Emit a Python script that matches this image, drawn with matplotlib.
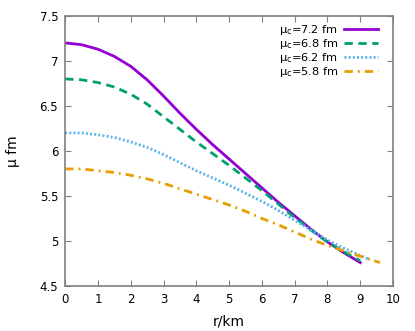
import matplotlib
matplotlib.use("Agg")
import matplotlib.pyplot as plt

# values
r_72 = [0, 0.5, 1, 1.5, 2, 2.5, 3, 3.5, 4, 4.5, 5, 5.5, 6, 6.5, 7, 7.5, 8, 8.5, 9]
mu_72 = [7.2, 7.18, 7.13, 7.05, 6.94, 6.79, 6.61, 6.42, 6.24, 6.07, 5.91, 5.75,
         5.59, 5.43, 5.28, 5.13, 4.99, 4.87, 4.76]

r_68 = [0, 0.5, 1, 1.5, 2, 2.5, 3, 3.5, 4, 4.5, 5, 5.5, 6, 6.5, 7, 7.5, 8, 8.5, 9]
mu_68 = [6.8, 6.79, 6.76, 6.71, 6.63, 6.52, 6.38, 6.24, 6.1, 5.97, 5.84, 5.7,
         5.56, 5.41, 5.26, 5.12, 4.99, 4.88, 4.78]

r_62 = [0, 0.5, 1, 1.5, 2, 2.5, 3, 3.5, 4, 4.5, 5, 5.5, 6, 6.5, 7, 7.5, 8, 8.5,
        9, 9.3]
mu_62 = [6.2, 6.2, 6.18, 6.15, 6.1, 6.04, 5.96, 5.87, 5.78, 5.7, 5.62, 5.53,
         5.44, 5.34, 5.23, 5.12, 5.01, 4.92, 4.84, 4.79]

r_58 = [0, 0.5, 1, 1.5, 2, 2.5, 3, 3.5, 4, 4.5, 5, 5.5, 6, 6.5, 7, 7.5, 8, 8.5,
        9, 9.6]
mu_58 = [5.8, 5.8, 5.78, 5.76, 5.73, 5.69, 5.64, 5.58, 5.52, 5.46, 5.4, 5.33,
         5.25, 5.18, 5.1, 5.02, 4.95, 4.89, 4.83, 4.76]

labels = ["μ$_\\mathrm{c}$=7.2 fm", "μ$_\\mathrm{c}$=6.8 fm",
          "μ$_\\mathrm{c}$=6.2 fm", "μ$_\\mathrm{c}$=5.8 fm"]

fig = plt.figure(figsize=(4.15, 3.31), dpi=100)
ax = fig.add_axes([0.157, 0.136, 0.79, 0.816])

ax.plot(r_72, mu_72, color="#9400d3", lw=2, label=labels[0])
ax.plot(r_68, mu_68, color="#009e73", lw=2, dashes=(3, 2), label=labels[1])
ax.plot(r_62, mu_62, color="#56b4e9", lw=2, dashes=(0.7, 0.8), label=labels[2])
ax.plot(r_58, mu_58, color="#e69f00", lw=2, dashes=(3, 1.8, 0.7, 1.8), label=labels[3])

ax.set_xlim(0, 10)
ax.set_ylim(4.5, 7.5)
ax.set_xticks(range(0, 11))
ax.set_yticks([4.5, 5, 5.5, 6, 6.5, 7, 7.5])
ax.set_yticklabels(["4.5", "5", "5.5", "6", "6.5", "7", "7.5"])
ax.tick_params(direction="in", top=True, right=True, length=4, color="#808080",
               labelsize=8.5, pad=5)
for s in ax.spines.values():
    s.set_color("#808080")
    s.set_linewidth(1.2)

ax.set_xlabel("r/km", fontsize=10, labelpad=6)
ax.set_ylabel("μ fm", fontsize=10, labelpad=14)

ax.legend(loc="upper right", bbox_to_anchor=(0.954, 0.973), frameon=False,
          markerfirst=False, fontsize=8.2, handlelength=3.0, labelspacing=0.0,
          borderaxespad=0, borderpad=0, handletextpad=0.5)

fig.savefig("out.png", dpi=100)
